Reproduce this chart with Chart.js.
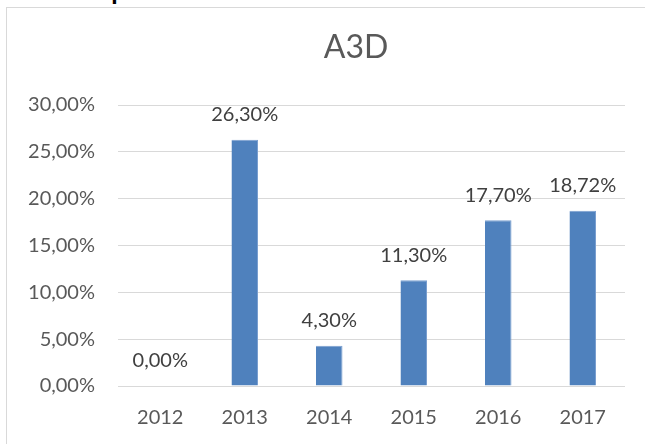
<!DOCTYPE html>
<html>
<head>
<meta charset="utf-8">
<script src="https://cdn.jsdelivr.net/npm/chart.js@4.4.0/dist/chart.umd.min.js"></script>
<style>
    html, body { margin: 0; padding: 0; background: #ffffff; overflow: hidden; }
    body { width: 645px; height: 444px; position: relative; }
    #heading {
        position: absolute; left: 55px; top: -23px;
        font: bold 26px Lato, sans-serif; line-height: 1; color: #000000; white-space: nowrap;
    }
    #frame {
        position: absolute; left: 6px; top: 7px; width: 645px; height: 444px;
        border-left: 1px solid #d9d9d9; border-top: 1px solid #d9d9d9;
    }
    #a3d-chart { position: absolute; left: 7px; top: 8px; }
</style>
</head>
<body>
<div id="heading">Past performance</div>
<div id="frame"></div>
<canvas id="a3d-chart" width="638" height="436"></canvas>
<script>
// datos del gráfico
const chartTitle = 'A3D';
const years = ['2012', '2013', '2014', '2015', '2016', '2017'];
const returnsPct = [0, 26.3, 4.3, 11.3, 17.7, 18.72];
const yTicks = [0, 5, 10, 15, 20, 25, 30];

function pctLabel(v) {
    return Number(v).toFixed(2).replace('.', ',') + '%';
}

// título y etiquetas encima de cada barra
const barValueLabels = {
    id: 'barValueLabels',
    afterDatasetsDraw(chart) {
        const ctx = chart.ctx;
        const meta = chart.getDatasetMeta(0);
        ctx.save();
        ctx.textAlign = 'center';
        ctx.textBaseline = 'middle';

        ctx.font = '32px Lato, sans-serif';
        ctx.fillStyle = '#595959';
        ctx.fillText(chartTitle, 349, 40);

        ctx.font = '20px Lato, sans-serif';
        ctx.fillStyle = '#404040';
        meta.data.forEach((bar, i) => {
            ctx.fillText(pctLabel(returnsPct[i]), bar.x, bar.y - 25);
        });
        ctx.restore();
    }
};

Chart.defaults.font.family = 'Lato, sans-serif';

const ctx = document.getElementById('a3d-chart');
const a3dChart = new Chart(ctx, {
    type: 'bar',
    data: {
        labels: years,
        datasets: [{
            data: returnsPct,
            backgroundColor: '#4f81bd',
            borderColor: '#7a9fd0',
            borderWidth: { top: 1, right: 1, left: 0, bottom: 0 },
            barPercentage: 0.314,
            categoryPercentage: 1
        }]
    },
    options: {
        responsive: false,
        animation: false,
        layout: { padding: { left: 0, right: 20, top: 97, bottom: 0 } },
        plugins: {
            legend: { display: false },
            tooltip: { enabled: false },
            title: { display: false }
        },
        scales: {
            x: {
                grid: { display: false, drawTicks: false },
                border: { display: false },
                ticks: { color: '#595959', font: { size: 20 }, padding: 20 },
                afterFit(scale) { scale.height = 58; }
            },
            y: {
                min: 0,
                max: 30,
                afterBuildTicks(scale) {
                    scale.ticks = yTicks.map(v => ({ value: v }));
                },
                grid: { color: '#d9d9d9', lineWidth: 1, drawTicks: false },
                border: { display: false },
                ticks: {
                    color: '#595959',
                    font: { size: 20 },
                    padding: 23,
                    callback: v => pctLabel(v)
                },
                afterFit(scale) { scale.width = 111; }
            }
        }
    },
    plugins: [barValueLabels]
});
</script>
</body>
</html>
